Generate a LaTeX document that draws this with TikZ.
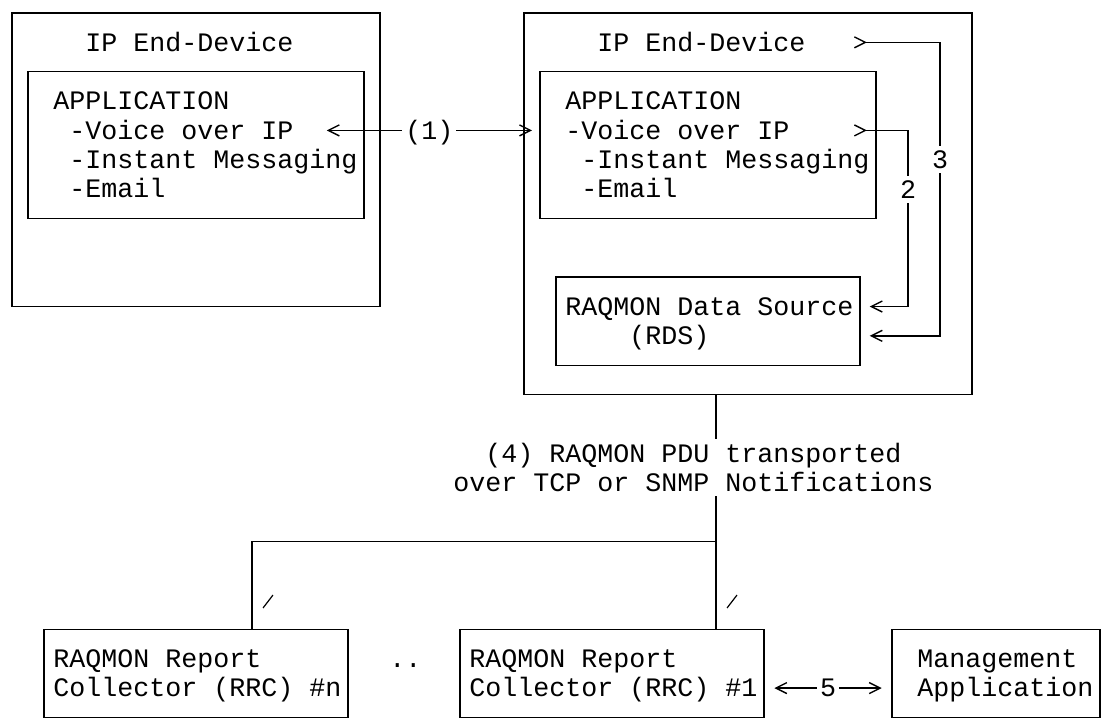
\documentclass[tikz,border=0pt]{standalone}
\usepackage{fontspec}
\usepackage{tikz}
\usetikzlibrary{arrows.meta,fit,calc}
\newfontfamily\mono{Liberation Mono}
\tikzset{>={Straight Barb[length=5.5pt,width=5.5pt]}}
\tikzstyle{box}=[draw,line width=0.7pt,inner sep=0pt]
\tikzstyle{wire}=[line width=0.7pt]
\tikzstyle{txt}=[font=\mono\fontsize{13.33pt}{14.675pt}\selectfont,inner sep=0.5pt,
                 text height=10.6pt,text depth=1.8pt,anchor=west]
\tikzstyle{num}=[txt,anchor=center,fill=white,inner xsep=1.5pt]
\tikzstyle{tap}=[{Straight Barb[reversed,length=5.5pt,width=5.5pt]}->]
\tikzstyle{barb}=[line width=0.6pt]

\begin{document}
\begin{tikzpicture}[x=8pt,y=-14.675pt]
  \useasboundingbox (-0.75,-0.443) rectangle (68.06,24.225);

  % END DEVICES
  \node[box,fit={( 0,0) (23,10)}] (devL) {};
  \node[box,fit={( 1,2) (22, 7)}] (appL) {};
  \node[box,fit={(32,0) (60,13)}] (devR) {};
  \node[box,fit={(33,2) (54, 7)}] (appR) {};
  \node[box,fit={(34,9) (53,12)}] (rds)  {};

  \node[txt] (titleL) at ( 4.5, 1) {IP End-Device};
  \node[txt] (titleR) at (36.5, 1) {IP End-Device};
  \node[txt] (applL)  at ( 2.5, 3) {APPLICATION};
  \node[txt] (applR)  at (34.5, 3) {APPLICATION};
  \node[txt] (voipL)  at ( 3.5, 4) {-Voice over IP};
  \node[txt] (voipR)  at (34.5, 4) {-Voice over IP};
  \node[txt] (imL)    at ( 3.5, 5) {-Instant Messaging};
  \node[txt] (imR)    at (35.5, 5) {-Instant Messaging};
  \node[txt] (mailL)  at ( 3.5, 6) {-Email};
  \node[txt] (mailR)  at (35.5, 6) {-Email};
  \node[txt] (rdsA)   at (34.5,10) {RAQMON Data Source};
  \node[txt] (rdsB)   at (38.5,11) {(RDS)};

  % COLLECTORS
  \node[box,fit={( 2,21) (21,24)}] (rrcN) {};
  \node[box,fit={(28,21) (47,24)}] (rrc1) {};
  \node[box,fit={(55,21) (68,24)}] (mgmt) {};

  \node[txt] (rrcNa) at ( 2.5,22) {RAQMON Report};
  \node[txt] (rrcNb) at ( 2.5,23) {Collector (RRC) \#n};
  \node[txt] (dots)  at (23.5,22) {..};
  \node[txt] (rrc1a) at (28.5,22) {RAQMON Report};
  \node[txt] (rrc1b) at (28.5,23) {Collector (RRC) \#1};
  \node[txt] (mgmtA) at (56.5,22) {Management};
  \node[txt] (mgmtB) at (56.5,23) {Application};

  \node[txt] (pduA) at (29.5,15) {(4) RAQMON PDU transported};
  \node[txt] (pduB) at (27.5,16) {over TCP or SNMP Notifications};

  \coordinate (s3) at (52.6, 1); % from device
  \coordinate (s2) at (52.6, 4); % from application
  \coordinate (k3) at (  58,11);
  \coordinate (k2) at (  56,10);
  \coordinate (j4) at (  44,18); % split to collectors
  \coordinate (jN) at (  15,18);

  % FLOWS
  \draw[wire,<->,shorten <=16pt,shorten >=16pt]
    (voipL.east) -- node[num] {(1)} (voipR.west);
  \draw[wire,tap,shorten >=4.5pt]
    (s2) -| node[num,pos=0.667] {2} (k2) -- (rds.east |- k2);
  \draw[wire,tap,shorten >=4.5pt]
    (s3) -| node[num,pos=0.7] {3} (k3) -- (rds.east |- k3);

  \draw[wire] (devR.south -| j4) -- (pduA.north -| j4);
  \draw[wire] (pduB.south -| j4) -- (j4);
  \draw[wire] (rrcN.north -| jN) |- (j4) -- (rrc1.north -| j4);
  \foreach \x in {15,44}{
    \draw[barb] (\x+0.69,20.27) -- ++(0.62,-0.44);
  }

  \draw[wire,<->,shorten <=4.8pt,shorten >=4.8pt]
    ($(rrc1.east)+(0,0.5)$) -- node[num] {5} ($(mgmt.west)+(0,0.5)$);

\end{tikzpicture}
\end{document}
